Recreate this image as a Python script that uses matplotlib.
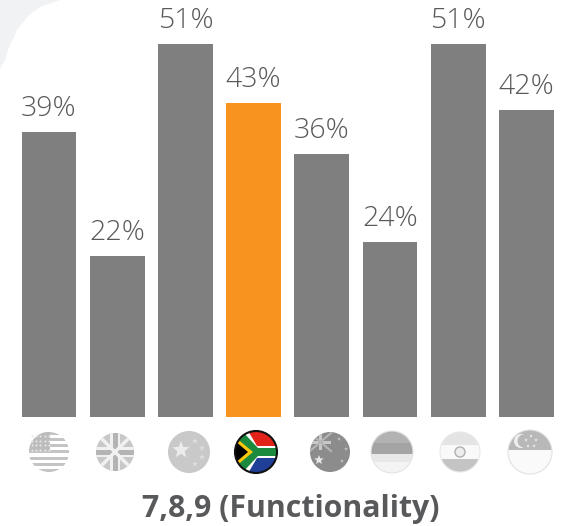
import numpy as np
from matplotlib import pyplot as plt
from matplotlib.patches import Circle, Polygon, Rectangle

# values
countries = ['USA', 'UK', 'China', 'South Africa', 'Australia', 'Indonesia', 'India', 'Singapore']
values = [39, 22, 51, 43, 36, 24, 51, 42]
title = '7,8,9 (Functionality)'

GREY = '#7f7f7f'
ORANGE = '#f7931e'
TEXT = '#58595b'
W, H = 568, 526


def clipped(art, clip):
    art.set_clip_path(clip)
    return art


def add_rect(px, clip, x0, y0, x1, y1, color):
    px.add_patch(clipped(Rectangle((x0, y0), x1 - x0, y1 - y0, fc=color, ec='none'), clip))


def add_poly(px, clip, pts, color):
    px.add_patch(clipped(Polygon(pts, closed=True, fc=color, ec='none'), clip))


def flag_base(px, cx, cy, r, color):
    clip = Circle((cx, cy), r, fc=color, ec='none')
    px.add_patch(clip)
    return clip


def star(px, clip, cx, cy, r, color):
    ang = np.pi / 2 + np.arange(10) * np.pi / 5
    rad = np.where(np.arange(10) % 2 == 0, r, r * 0.42)
    pts = np.column_stack([cx + rad * np.cos(ang), cy - rad * np.sin(ang)])
    add_poly(px, clip, pts, color)


def draw_usa(px, cx, cy, r):
    clip = flag_base(px, cx, cy, r, '#ffffff')
    for i in range(7):
        y = cy - r + i * 2 * r / 6.5
        add_rect(px, clip, cx - r, y, cx + r, y + 3, '#c4c4c4')
    add_rect(px, clip, cx - r, cy - r, cx + 1, cy - 1, '#bcbcbc')
    for i in range(4):
        for j in range(5):
            px.plot(cx - r + 3 + j * 4.2, cy - r + 4 + i * 4.5, 'o', ms=1.5, color='#e6e6e6', mew=0)


def draw_uk(px, cx, cy, r):
    clip = flag_base(px, cx, cy, r, '#c8c8c8')
    for s in (1, -1):
        px.plot([cx - r, cx + r], [cy - s * r, cy + s * r], color='#f1f1f1', lw=2.5, clip_path=clip)
    add_rect(px, clip, cx - 5, cy - r, cx + 5, cy + r, '#f1f1f1')
    add_rect(px, clip, cx - r, cy - 5, cx + r, cy + 5, '#f1f1f1')
    add_rect(px, clip, cx - 2.5, cy - r, cx + 2.5, cy + r, '#b4b4b4')
    add_rect(px, clip, cx - r, cy - 2.5, cx + r, cy + 2.5, '#b4b4b4')


def draw_china(px, cx, cy, r):
    clip = flag_base(px, cx, cy, r, '#c9c9c9')
    star(px, clip, cx - 8, cy - 2, 9, '#ececec')
    for dx, dy in [(6, -11), (13, -4), (13, 5), (6, 12)]:
        star(px, clip, cx + dx, cy + dy, 3, '#dedede')


def draw_south_africa(px, cx, cy, r):
    clip = flag_base(px, cx, cy, r, '#000000')
    add_rect(px, clip, cx - r, cy - r, cx + r, cy, '#e2231a')
    add_rect(px, clip, cx - r, cy, cx + r, cy + r, '#1f3f99')
    add_poly(px, clip, [(cx - r, cy - r - 2), (cx - r + 12, cy - r - 2), (cx + 1, cy - 6),
                        (cx + r, cy - 6), (cx + r, cy + 6), (cx + 1, cy + 6),
                        (cx - r + 12, cy + r + 2), (cx - r, cy + r + 2)], '#ffffff')
    add_poly(px, clip, [(cx - r, cy - r + 1), (cx - r + 8, cy - r + 1), (cx + 2, cy - 4),
                        (cx + r, cy - 4), (cx + r, cy + 4), (cx + 2, cy + 4),
                        (cx - r + 8, cy + r - 1), (cx - r, cy + r - 1)], '#1c8a3e')
    add_poly(px, clip, [(cx - r, cy - 15), (cx - 3, cy), (cx - r, cy + 15)], '#f9c80e')
    add_poly(px, clip, [(cx - r, cy - 11), (cx - 8, cy), (cx - r, cy + 11)], '#000000')
    px.add_patch(Circle((cx, cy), r, fc='none', ec='#111111', lw=1.5))


def draw_australia(px, cx, cy, r):
    clip = flag_base(px, cx, cy, r, '#8c8c8c')
    for s in (1, -1):
        px.plot([cx - r, cx + 1], [cy - 10 - s * 9, cy - 10 + s * 9], color='#b5b5b5', lw=1.5, clip_path=clip)
    add_rect(px, clip, cx - 11, cy - r, cx - 8, cy - 2, '#c8c8c8')
    add_rect(px, clip, cx - r, cy - 11, cx + 1, cy - 8, '#c8c8c8')
    star(px, clip, cx - 11, cy + 8, 5, '#e8e8e8')
    for dx, dy in [(9, -13), (12, 9), (16, -3)]:
        star(px, clip, cx + dx, cy + dy, 2, '#c4c4c4')


def draw_indonesia(px, cx, cy, r):
    clip = flag_base(px, cx, cy, r, '#f4f4f4')
    add_rect(px, clip, cx - r, cy - r, cx + r, cy + 2, '#a4a4a4')
    add_rect(px, clip, cx - r, cy - r, cx + r, cy - 9, '#b2b2b2')
    add_rect(px, clip, cx - r, cy + 2, cx + r, cy + 10, '#e8e8e8')
    px.add_patch(Circle((cx, cy), r, fc='none', ec='#e4e4e4', lw=0.8))


def draw_india(px, cx, cy, r):
    clip = flag_base(px, cx, cy, r, '#f9f9f9')
    add_rect(px, clip, cx - r, cy - r, cx + r, cy - 7, '#e4e4e4')
    add_rect(px, clip, cx - r, cy + 7, cx + r, cy + r, '#c4c4c4')
    px.add_patch(Circle((cx, cy), 5, fc='#eeeeee', ec='#b0b0b0', lw=1))
    px.add_patch(Circle((cx, cy), r, fc='none', ec='#e8e8e8', lw=0.8))


def draw_singapore(px, cx, cy, r):
    clip = flag_base(px, cx, cy, r, '#fafafa')
    add_rect(px, clip, cx - r, cy - r, cx + r, cy - 2, '#b8b8b8')
    px.add_patch(clipped(Circle((cx - 9, cy - 11), 7, fc='#efefef', ec='none'), clip))
    px.add_patch(clipped(Circle((cx - 6, cy - 11), 6.5, fc='#b8b8b8', ec='none'), clip))
    for dx, dy in [(1, -16), (6, -12), (4, -6), (-2, -6), (-4, -12)]:
        star(px, clip, cx + dx, cy + dy, 1.8, '#efefef')
    px.add_patch(Circle((cx, cy), r, fc='none', ec='#e2e2e2', lw=0.8))


def plot_chart():
    fig = plt.figure(figsize=(W / 100, H / 100), dpi=100)

    # overlay in pixel coordinates for the decoration
    px = fig.add_axes([0, 0, 1, 1], zorder=2)
    px.set_xlim(0, W)
    px.set_ylim(H, 0)
    px.axis('off')
    px.set_aspect('equal')

    bg = fig.add_axes([0, 0, 1, 1], zorder=0)
    bg.set_xlim(0, W)
    bg.set_ylim(H, 0)
    bg.axis('off')
    bg.add_patch(Polygon([(0, 0), (60, 0), (40, 7), (28, 16), (17, 30), (8, 50), (5, 60), (0, 69)],
                         closed=True, fc='#f1f2f4', ec='none'))

    ax = fig.add_axes([0, 109 / H, 1, 417 / H], zorder=1)
    ax.patch.set_alpha(0)
    x = np.arange(len(values))
    colors = [ORANGE if c == 'South Africa' else GREY for c in countries]
    ax.bar(x, values, width=0.805, color=colors)
    for xi, v in zip(x, values):
        ax.annotate('%d%%' % v, (xi, v), xytext=(0, 6.5), textcoords='offset points',
                    ha='center', va='bottom', fontsize=20.5, color=TEXT,
                    family='Open Sans', weight='light')
    ax.set_xlim(-0.718, 7.61)
    ax.set_ylim(0, 417 / 7.31)
    ax.axis('off')

    draw_usa(px, 49, 452, 20)
    draw_uk(px, 115, 452, 19)
    draw_china(px, 189, 452, 21)
    draw_south_africa(px, 256, 452, 21)
    draw_australia(px, 330, 452, 20)
    draw_indonesia(px, 392, 452, 21)
    draw_india(px, 460, 452, 20)
    draw_singapore(px, 530, 452, 22)

    px.text(291, 509, title, ha='center', va='center', fontsize=21.8, color=TEXT,
            family='Open Sans', weight='bold')

    fig.savefig('out.png', dpi=100)


plot_chart()
